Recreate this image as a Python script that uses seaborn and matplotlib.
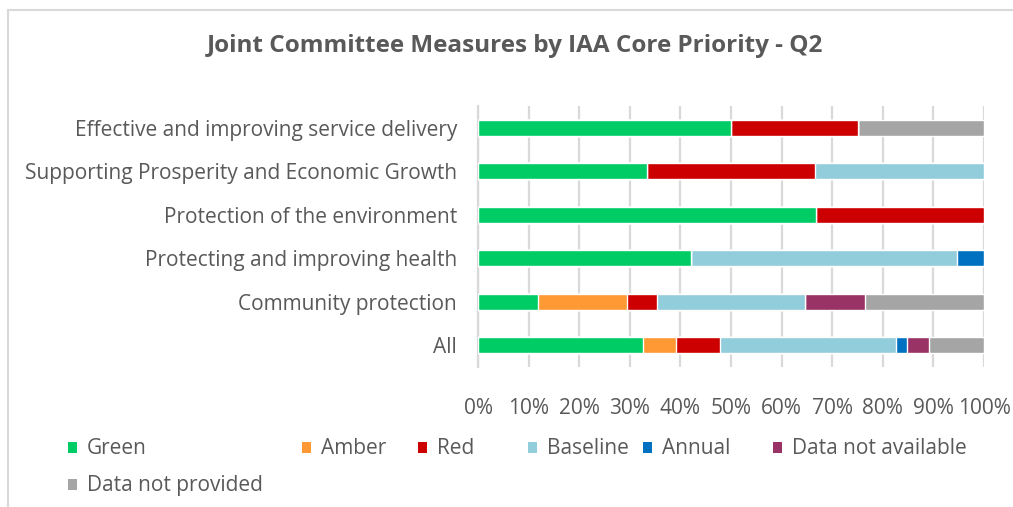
import matplotlib
matplotlib.use("Agg")
import matplotlib.pyplot as plt
from matplotlib.patches import Rectangle
import numpy as np
import pandas as pd
import seaborn as sns

# Core priorities, top to bottom
categories = [
    "Effective and improving service delivery",
    "Supporting Prosperity and Economic Growth",
    "Protection of the environment",
    "Protecting and improving health",
    "Community protection",
    "All",
]

# Share of measures (%) in each RAG status per priority
green = [50.0, 33.3, 66.7, 42.1, 11.8, 32.6]
amber = [0.0, 0.0, 0.0, 0.0, 17.6, 6.5]
red = [25.0, 33.3, 33.3, 0.0, 5.9, 8.7]
baseline = [0.0, 33.4, 0.0, 52.6, 29.4, 34.8]
annual = [0.0, 0.0, 0.0, 5.3, 0.0, 2.2]
data_not_available = [0.0, 0.0, 0.0, 0.0, 11.8, 4.3]
data_not_provided = [25.0, 0.0, 0.0, 0.0, 23.5, 10.9]

series_names = ["Green", "Amber", "Red", "Baseline", "Annual",
                "Data not available", "Data not provided"]
series_values = [green, amber, red, baseline, annual,
                 data_not_available, data_not_provided]
colors = ["#00CC66", "#FF9933", "#CC0000", "#92CDDC", "#0070C0",
          "#993366", "#A5A5A5"]
xtick_values = list(range(0, 101, 10))

text_color = "#595959"
grid_color = "#D9D9D9"
font = "Open Sans"
label_size = 15

sns.set_theme(style="white")
plt.rcParams["font.family"] = [font, "DejaVu Sans"]

fig = plt.figure(figsize=(10.13, 5.07), dpi=100)
ax = fig.add_axes([0.4719, 0.2761, 0.4995, 0.5148])

# Cumulative totals, drawn from the outermost segment inwards
cum = np.cumsum(np.array(series_values), axis=0)
for i in range(len(series_names) - 1, -1, -1):
    df = pd.DataFrame({"category": categories, "value": cum[i]})
    sns.barplot(data=df, x="value", y="category", orient="h", color=colors[i],
                width=0.37, edgecolor="white", linewidth=1.0, saturation=1,
                ax=ax, zorder=3)

ax.set_xlim(0, 100)
ax.set_ylim(5.5, -0.5)
ax.set_xticks(xtick_values)
ax.set_xticklabels([f"{v}%" for v in xtick_values])
ax.xaxis.grid(True, color=grid_color, linewidth=1.6, zorder=0)
ax.yaxis.grid(False)
for s in ["top", "right", "bottom"]:
    ax.spines[s].set_visible(False)
ax.spines["left"].set_color(grid_color)
ax.spines["left"].set_linewidth(1.6)
ax.set_xlabel("")
ax.set_ylabel("")
ax.tick_params(axis="x", length=0, pad=22, labelsize=label_size, labelcolor=text_color)
ax.tick_params(axis="y", length=0, pad=15, labelsize=label_size, labelcolor=text_color)

fig.text(0.508, 0.909, "Joint Committee Measures by IAA Core Priority - Q2",
         ha="center", va="center", fontsize=17.5, fontweight="bold",
         color=text_color)

# Legend laid out in two rows
legend_pos = [(68, 447), (302, 447), (418, 447), (528, 447), (643, 447),
              (773, 447), (68, 484)]
W, H = 1013, 507
for (px, py), name, c in zip(legend_pos, series_names, colors):
    fig.patches.append(Rectangle((px / W, 1 - (py + 5.5) / H), 9 / W, 11 / H,
                                 transform=fig.transFigure, facecolor=c,
                                 edgecolor="none"))
    fig.text((px + 19) / W, 1 - (py + 2) / H, name, ha="left", va="center",
             fontsize=label_size, color=text_color)

# Chart frame
fig.patches.append(Rectangle((8 / W, -0.1), 1.2, 1 - 10 / H + 0.1,
                             transform=fig.transFigure, facecolor="none",
                             edgecolor=grid_color, linewidth=1.5))

fig.savefig("out.png", dpi=100, facecolor="white")
